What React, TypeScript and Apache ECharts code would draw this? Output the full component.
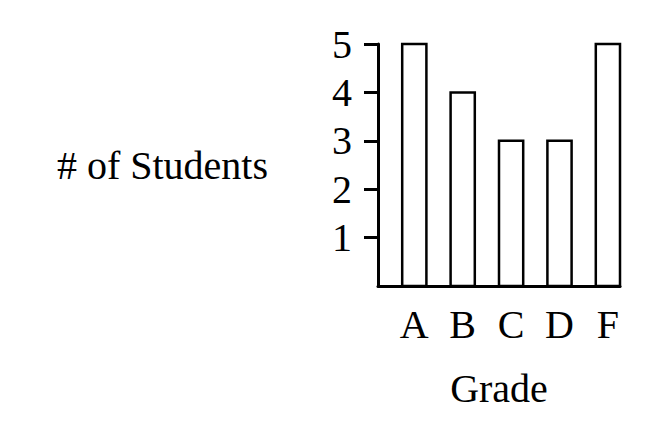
import React, { useEffect, useRef } from "react";
import * as echarts from "echarts";

const grades = ["A", "B", "C", "D", "F"];
const students = [5, 4, 3, 3, 5];
const yTicks = [1, 2, 3, 4, 5];

const FONT = "'Liberation Serif', 'Times New Roman', serif";

export default function App() {
  const ref = useRef<HTMLDivElement>(null);
  useEffect(() => {
    if (!ref.current) return;
    const chart = echarts.init(ref.current, null, { renderer: "svg" });
    const data = grades.map((g, i) => [i + 1, students[i]]);
    const xPos = grades.map((_, i) => i + 1);
    chart.setOption({
      animation: false,
      backgroundColor: "#fff",
      textStyle: { fontFamily: FONT, color: "#000" },
      grid: { left: 378, right: 33, top: 44, bottom: 146, containLabel: false },
      xAxis: {
        type: "value",
        min: 0.25,
        max: 5.25,
        name: "Grade",
        nameLocation: "middle",
        nameGap: 82,
        nameTextStyle: { fontFamily: FONT, fontSize: 40, color: "#000" },
        splitLine: { show: false },
        axisLine: { show: true, lineStyle: { color: "#000", width: 3 } },
        axisTick: { show: false },
        axisLabel: {
          customValues: xPos,
          formatter: (v: number) => grades[Math.round(v) - 1] ?? "",
          fontFamily: FONT,
          fontSize: 40,
          color: "#000",
          margin: 18,
        },
      },
      yAxis: {
        type: "value",
        min: 0,
        max: 5,
        interval: 1,
        name: "# of Students",
        nameLocation: "middle",
        nameRotate: 0,
        nameGap: 110,
        nameTextStyle: { fontFamily: FONT, fontSize: 40, color: "#000" },
        splitLine: { show: false },
        axisLine: { show: true, lineStyle: { color: "#000", width: 3 } },
        axisTick: {
          show: true,
          customValues: yTicks,
          length: 14,
          lineStyle: { color: "#000", width: 3 },
        },
        axisLabel: {
          customValues: yTicks,
          fontFamily: FONT,
          fontSize: 40,
          color: "#000",
          margin: 26,
        },
      },
      series: [
        {
          type: "custom",
          data,
          renderItem: (params: any, api: any) => {
            const x = api.value(0);
            const y = api.value(1);
            const p0 = api.coord([x - 0.25, y]);
            const p1 = api.coord([x + 0.25, 0]);
            return {
              type: "rect",
              shape: { x: p0[0], y: p0[1], width: p1[0] - p0[0], height: p1[1] - p0[1] },
              style: { fill: "#fff", stroke: "#000", lineWidth: 2.5 },
            };
          },
        },
      ],
    });
    return () => chart.dispose();
  }, []);
  return (
    <div
      ref={ref}
      style={{ position: "fixed", left: 0, top: 0, width: 653, height: 432 }}
    />
  );
}
